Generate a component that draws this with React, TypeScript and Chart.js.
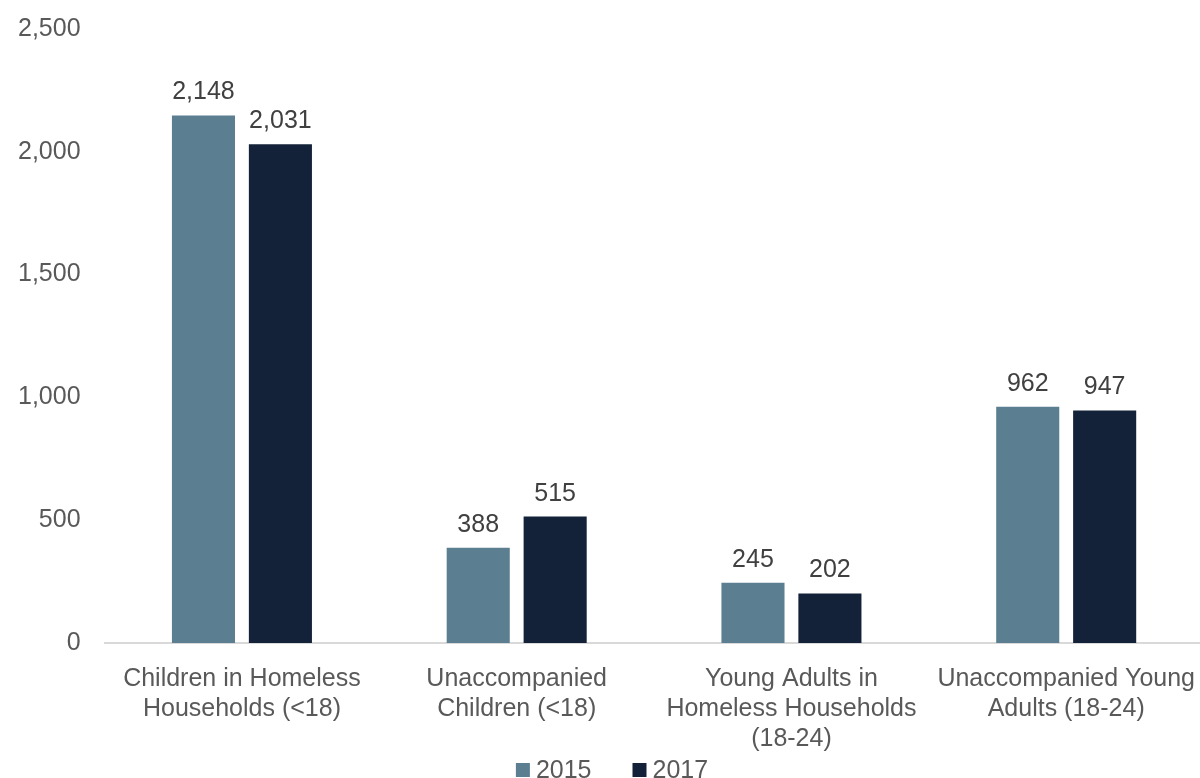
import React, { useEffect, useRef } from "react";
import { Chart, registerables } from "chart.js";

Chart.register(...registerables);

const categories: string[][] = [
  ["Children in Homeless", "Households (<18)"],
  ["Unaccompanied", "Children (<18)"],
  ["Young Adults in", "Homeless Households", "(18-24)"],
  ["Unaccompanied Young", "Adults (18-24)"],
];
const series2015: number[] = [2148, 388, 245, 962];
const series2017: number[] = [2031, 515, 202, 947];
const seriesLabels: string[] = ["2015", "2017"];
const seriesColors: string[] = ["#5b7f91", "#132238"];

const FONT = "'Liberation Sans', Arial, sans-serif";
const FS = 25;

const valueLabels = {
  id: "valueLabels",
  afterDatasetsDraw(chart: any) {
    const ctx = chart.ctx;
    ctx.save();
    ctx.font = `${FS}px ${FONT}`;
    ctx.fillStyle = "#404040";
    ctx.textAlign = "center";
    ctx.textBaseline = "alphabetic";
    chart.data.datasets.forEach((ds: any, i: number) => {
      const meta = chart.getDatasetMeta(i);
      meta.data.forEach((el: any, j: number) => {
        const v = ds.data[j] as number;
        ctx.fillText(v.toLocaleString("en-US"), el.x, el.y - 16);
      });
    });
    ctx.restore();
  },
};

const bottomLegend = {
  id: "bottomLegend",
  afterDraw(chart: any) {
    const ctx = chart.ctx;
    ctx.save();
    ctx.font = `${FS}px ${FONT}`;
    ctx.textBaseline = "middle";
    ctx.textAlign = "left";
    const box = 14;
    const gapBoxText = 6;
    const gapItems = 41;
    const ds = chart.data.datasets;
    const widths = ds.map((d: any) => box + gapBoxText + ctx.measureText(d.label).width);
    const total = widths.reduce((a: number, b: number) => a + b, 0) + gapItems * (ds.length - 1);
    let x = 612 - total / 2;
    const cy = 772;
    ds.forEach((d: any, i: number) => {
      ctx.fillStyle = d.backgroundColor;
      ctx.fillRect(x, cy - box / 2, box, box);
      ctx.fillStyle = "#595959";
      ctx.fillText(d.label, x + box + gapBoxText, cy + 1);
      x += widths[i] + gapItems;
    });
    ctx.restore();
  },
};

export default function App() {
  const ref = useRef<HTMLCanvasElement>(null);
  useEffect(() => {
    if (!ref.current) return;
    const chart = new Chart(ref.current, {
      type: "bar",
      data: {
        labels: categories,
        datasets: [
          { label: seriesLabels[0], data: series2015, backgroundColor: seriesColors[0] },
          { label: seriesLabels[1], data: series2017, backgroundColor: seriesColors[1] },
        ],
      },
      options: {
        animation: false,
        responsive: false,
        maintainAspectRatio: false,
        layout: { padding: { top: 4, right: 0, left: 2, bottom: 11 } },
        datasets: { bar: { categoryPercentage: 0.56, barPercentage: 0.82 } },
        scales: {
          x: {
            grid: { display: false },
            border: { display: true, color: "#d9d9d9", width: 2 },
            ticks: { color: "#595959", font: { family: FONT, size: FS }, maxRotation: 0, autoSkip: false, padding: 13 },
          },
          y: {
            min: 0,
            max: 2500,
            grid: { display: false },
            border: { display: false },
            ticks: {
              stepSize: 500,
              color: "#595959",
              font: { family: FONT, size: FS },
              padding: 16,
              callback: (v: any) => Number(v).toLocaleString("en-US"),
            },
          },
        },
        plugins: {
          legend: { display: false },
          tooltip: { enabled: false },
        },
      },
      plugins: [valueLabels, bottomLegend],
    });
    return () => chart.destroy();
  }, []);
  return (
    <div style={{ position: "fixed", left: 0, top: 0, width: 1200, height: 778, overflow: "hidden", background: "#fff" }}>
      <canvas ref={ref} width={1208} height={780} style={{ width: 1208, height: 780, position: "absolute", left: 0, top: -2 }} />
    </div>
  );
}
